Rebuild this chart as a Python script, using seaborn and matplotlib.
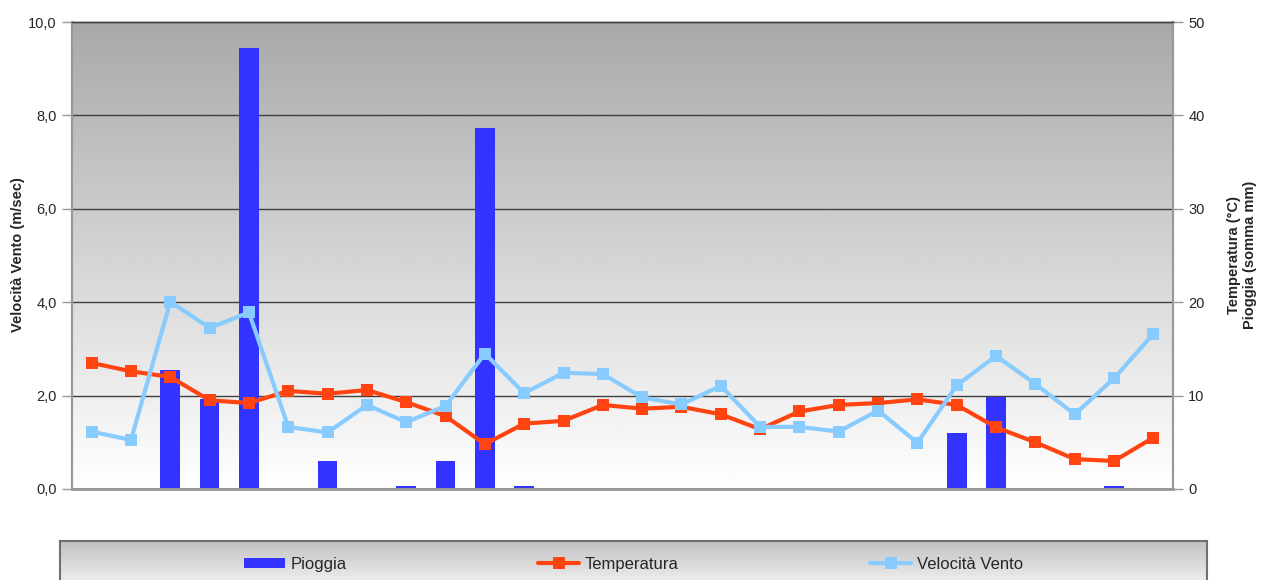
import numpy as np
import pandas as pd
import seaborn as sns
import matplotlib.pyplot as plt
from matplotlib.patches import Patch
from matplotlib.lines import Line2D

# days of November 3..30
giorni = [f"{d}/11" for d in range(3, 31)]

pioggia = [0, 0, 12.7, 9.6, 47.2, 0, 3.0, 0, 0.3, 3.0, 38.7, 0.3, 0, 0,
           0, 0, 0, 0, 0, 0, 0, 0, 6.0, 9.8, 0, 0, 0.3, 0]
temperatura = [13.5, 12.6, 12.0, 9.5, 9.2, 10.5, 10.2, 10.6, 9.3, 7.8, 4.8, 7.0,
               7.3, 9.0, 8.6, 8.8, 8.0, 6.4, 8.3, 9.0, 9.2, 9.6, 9.0, 6.6,
               5.0, 3.2, 3.0, 5.5]
vento = [1.23, 1.05, 4.01, 3.45, 3.78, 1.33, 1.21, 1.80, 1.43, 1.78, 2.90, 2.05,
         2.49, 2.46, 1.96, 1.81, 2.21, 1.33, 1.33, 1.23, 1.68, 0.99, 2.22, 2.85,
         2.25, 1.60, 2.37, 3.32]

df = pd.DataFrame({"giorno": giorni, "idx": range(len(giorni)),
                   "pioggia": pioggia, "temperatura": temperatura, "vento": vento})

sns.set_style("white")
plt.rcParams['font.family'] = ['Liberation Sans', 'DejaVu Sans']

c_rain = "#3333ff"
c_temp = "#ff4411"
c_wind = "#88ccff"

fig = plt.figure(figsize=(12.61, 5.8), dpi=100)
ax = fig.add_axes([72/1261, 1-489/580, 1101/1261, 467/580])
ax2 = ax.twinx()
# wind axis drawn on top, background + bars + temperature below
ax.set_zorder(ax2.get_zorder() + 1)
ax.patch.set_visible(False)

# gradient background (dark at top, white at bottom)
grad = np.linspace(0.66, 1.0, 256).reshape(-1, 1)
ax2.imshow(grad, extent=[-0.5, 27.5, 0, 50], aspect="auto", cmap="gray",
           vmin=0, vmax=1, zorder=0, origin="upper")

for y in [10, 20, 30, 40]:
    ax2.axhline(y, color="#404040", lw=1, zorder=1)

sns.barplot(data=df, x="idx", y="pioggia", color=c_rain, width=0.5,
            saturation=1, linewidth=0, edgecolor="none", ax=ax2, zorder=2)
sns.lineplot(data=df, x="idx", y="temperatura", color=c_temp, lw=3,
             marker="s", markersize=8, markeredgewidth=0, ax=ax2, zorder=3)
sns.lineplot(data=df, x="idx", y="vento", color=c_wind, lw=3,
             marker="s", markersize=8, markeredgewidth=0, ax=ax, zorder=4)

for a in (ax, ax2):
    a.set_xlim(-0.5, 27.5)
ax.set_ylim(0, 10)
ax2.set_ylim(0, 50)

# x ticks: labels every 3 days, tick marks at category boundaries
lab_pos = list(range(0, 28, 3))
ax.set_xticks(lab_pos)
ax.set_xticklabels([giorni[i] for i in lab_pos], fontsize=10.5)
ax.set_xticks([p - 0.5 for p in lab_pos], minor=True)
ax.tick_params(axis="x", which="major", length=0, pad=15)
ax.tick_params(axis="x", which="minor", length=7, width=1, color="#999999")
ax2.set_xticks([])
ax2.set_xlabel("")

ax.set_yticks([0, 2, 4, 6, 8, 10])
ax.set_yticklabels(["0,0", "2,0", "4,0", "6,0", "8,0", "10,0"], fontsize=10.5)
ax2.set_yticks([0, 10, 20, 30, 40, 50])
ax2.set_yticklabels(["0", "10", "20", "30", "40", "50"], fontsize=10.5)
ax.tick_params(axis="y", length=7, width=1, color="#999999", pad=4, left=True)
ax2.tick_params(axis="y", length=7, width=1, color="#999999", pad=4, right=True)

ax.set_xlabel("")
ax.set_ylabel("")
ax2.set_ylabel("")
fig.text(18/1261, 1-255/580, "Velocità Vento (m/sec)", fontsize=10.5,
         fontweight="bold", rotation=90, ha="center", va="center")
fig.text(1242/1261, 1-255/580, "Temperatura (°C)\nPioggia (somma mm)", fontsize=10.5,
         fontweight="bold", rotation=90, ha="center", va="center", linespacing=1.15)

for a in (ax, ax2):
    for s in ["left", "right", "bottom"]:
        a.spines[s].set_color("#999999")
        a.spines[s].set_linewidth(1.5)
    a.spines["top"].set_color("#404040")
    a.spines["top"].set_linewidth(1)
ax.spines["bottom"].set_linewidth(2)

# legend box below the chart
lax = fig.add_axes([60/1261, -5/580, 1147/1261, 44/580])
lgrad = np.linspace(0.76, 0.94, 256).reshape(-1, 1)
lax.imshow(lgrad, extent=[0, 1, 0, 1], aspect="auto", cmap="gray",
           vmin=0, vmax=1, origin="upper")
lax.set_xlim(0, 1)
lax.set_ylim(0, 1)
lax.set_xticks([])
lax.set_yticks([])
for s in lax.spines.values():
    s.set_color("#707070")
    s.set_linewidth(1.5)

handles = [
    Patch(facecolor=c_rain, edgecolor="none"),
    Line2D([], [], color=c_temp, lw=3, marker="s", markersize=8, markeredgewidth=0),
    Line2D([], [], color=c_wind, lw=3, marker="s", markersize=8, markeredgewidth=0),
]
lax.legend(handles, ["Pioggia", "Temperatura", "Velocità Vento"], ncol=3,
           loc="center", bbox_to_anchor=(0.5, 0.47), frameon=False,
           fontsize=12, handlelength=2.45, handleheight=0.6, handletextpad=0.35,
           columnspacing=11.5)

fig.savefig("out.png", dpi=100)
